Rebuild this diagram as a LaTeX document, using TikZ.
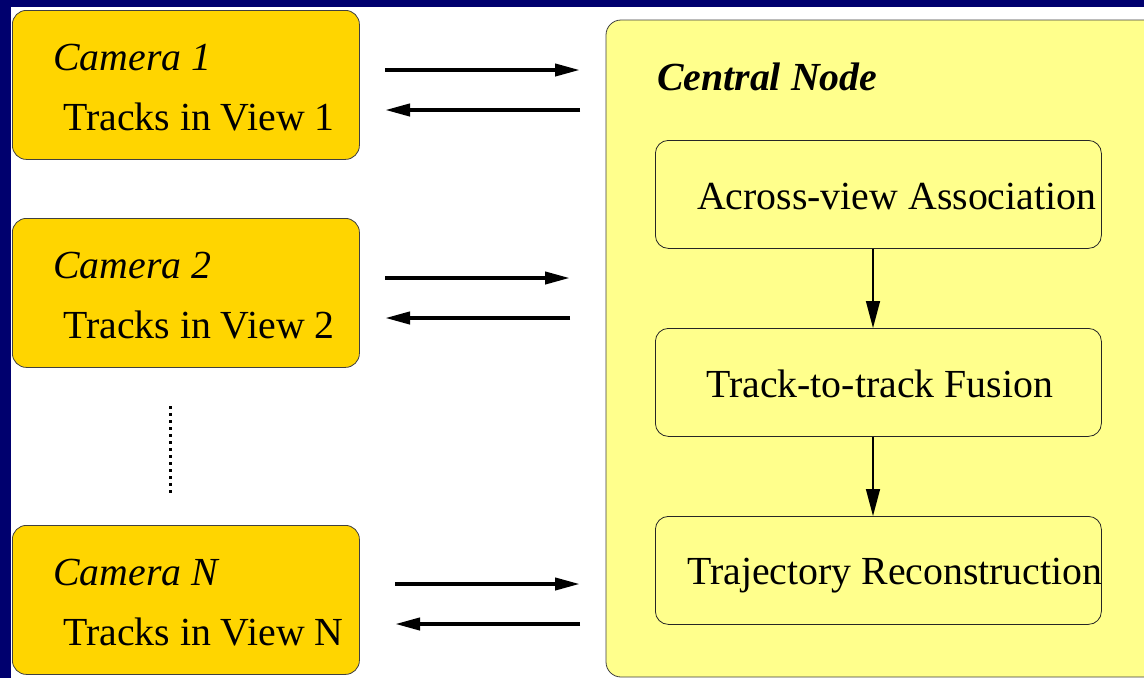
\documentclass[tikz,border=0pt]{standalone}
\usepackage{fontspec}
\setmainfont{Liberation Serif}
\usetikzlibrary{arrows.meta}
\definecolor{framenavy}{RGB}{0,0,110}
\definecolor{camgold}{RGB}{255,213,0}
\definecolor{paleyellow}{RGB}{255,255,140}
\tikzset{
  cambox/.style={draw=black!75, line width=0.8pt, fill=camgold, rounded corners=14pt,
    minimum width=347pt, minimum height=149pt, inner sep=0pt, anchor=north west},
  stagebox/.style={draw=black!85, line width=0.8pt, rounded corners=13pt,
    minimum width=446pt, minimum height=108pt, inner sep=0pt, anchor=north west},
  txt/.style={inner sep=0pt, anchor=base west, font=\fontsize{39.8}{47}\selectfont},
  camtxt/.style={txt, font=\fontsize{39.8}{47}\selectfont\itshape},
  headtxt/.style={txt, font=\fontsize{39.8}{47}\selectfont\bfseries\itshape},
  linkarrow/.style={line width=4pt, -{Triangle[length=25pt,width=12pt]}},
  flowarrow/.style={line width=1.5pt, -{Triangle[length=27pt,width=14pt]}},
}
\begin{document}
\begin{tikzpicture}[x=1pt, y=-1pt]
  \useasboundingbox (0,0) rectangle (1144,678);
  % frame
  \fill[framenavy] (0,0) rectangle (1144,678);
  \fill[white] (11,7) rectangle (1144,678);

  % central node panel (runs off the right edge)
  \begin{scope}
    \clip (0,0) rectangle (1144,678);
    \draw[fill=paleyellow, draw=black!75, line width=0.8pt, rounded corners=15pt]
      (606,20) rectangle (1180,677);
  \end{scope}
  \node[headtxt] (central) at (657,90) {Central Node};

  % processing stages
  \node[stagebox] (assoc)  at (655,140) {};
  \node[stagebox] (fusion) at (655,328) {};
  \node[stagebox] (traj)   at (655,516) {};
  \node[txt] (assoctxt)  at (697,209) {Across-view Association};
  \node[txt] (fusiontxt) at (706,397) {Track-to-track Fusion};
  \node[txt] (trajtxt)   at (687,584) {Trajectory Reconstruction};
  \draw[flowarrow] (assoc.south -| 873,0) -- (fusion.north -| 873,0);
  \draw[flowarrow] (fusion.south -| 873,0) -- (traj.north -| 873,0);

  % cameras
  \node[cambox] (cam1) at (12,10) {};
  \node[cambox] (cam2) at (12,218) {};
  \node[cambox] (camN) at (12,525) {};
  \node[camtxt] (cam1a) at (53,70) {Camera 1};
  \node[txt]    (cam1b) at (63,130) {Tracks in View 1};
  \node[camtxt] (cam2a) at (53,278) {Camera 2};
  \node[txt]    (cam2b) at (63,338) {Tracks in View 2};
  \node[camtxt] (camNa) at (53,585) {Camera N};
  \node[txt]    (camNb) at (63,645) {Tracks in View N};

  % dotted ellipsis between camera 2 and camera N
  \coordinate (dotA) at (170.5,406);
  \coordinate (dotB) at (170.5,496);
  \draw[line width=3.5pt, dash pattern=on 3pt off 4pt] (dotA) -- (dotB);

  % links between the cameras and the central node
  \coordinate (c1o) at (385,70);  \coordinate (n1i) at (580,70);
  \coordinate (n1o) at (580,110); \coordinate (c1i) at (385,110);
  \coordinate (c2o) at (385,278); \coordinate (n2i) at (570,278);
  \coordinate (n2o) at (570,318); \coordinate (c2i) at (385,318);
  \coordinate (cNo) at (395,584); \coordinate (nNi) at (580,584);
  \coordinate (nNo) at (580,624); \coordinate (cNi) at (395,624);
  \draw[linkarrow] (c1o) -- (n1i);
  \draw[linkarrow] (n1o) -- (c1i);
  \draw[linkarrow] (c2o) -- (n2i);
  \draw[linkarrow] (n2o) -- (c2i);
  \draw[linkarrow] (cNo) -- (nNi);
  \draw[linkarrow] (nNo) -- (cNi);
\end{tikzpicture}
\end{document}
